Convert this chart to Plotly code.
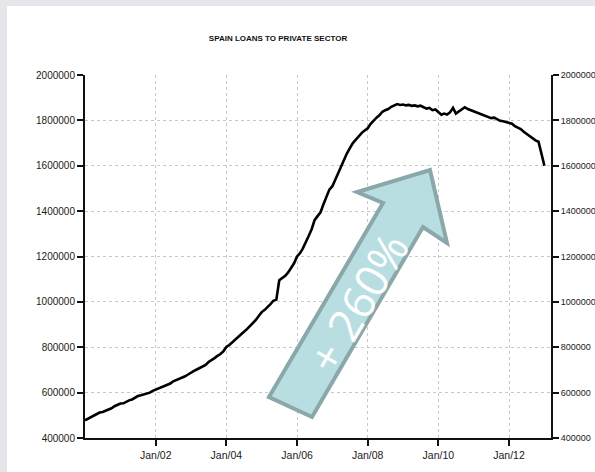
import plotly.graph_objects as go
import pandas as pd

# ---- data (thousands of EUR, monthly, Jan 2000 - Jan 2013) ----
start_month = "2000-01-01"
loans_k = [
    # 2000
    478, 485, 492, 497, 503, 512, 515, 520, 527, 531, 540, 546,
    # 2001
    552, 553, 560, 566, 570, 577, 585, 588, 592, 597, 600, 608,
    # 2002
    614, 617, 624, 630, 636, 640, 650, 655, 662, 668, 672, 680,
    # 2003
    690, 696, 702, 710, 716, 722, 735, 742, 752, 762, 770, 782,
    # 2004
    801, 810, 822, 832, 845, 858, 868, 880, 892, 905, 920, 938,
    # 2005
    955, 965, 975, 990, 1005, 1010, 1095, 1105, 1115, 1130, 1150, 1170,
    # 2006
    1200, 1215, 1235, 1260, 1290, 1320, 1360, 1378, 1395, 1430, 1465, 1495,
    # 2007
    1510, 1540, 1570, 1600, 1630, 1655, 1678, 1700, 1715, 1730, 1745, 1755,
    # 2008
    1765, 1785, 1800, 1812, 1822, 1838, 1845, 1850, 1860, 1865, 1872, 1868,
    # 2009
    1870, 1866, 1868, 1864, 1866, 1862, 1865, 1858, 1852, 1855, 1845, 1848,
    # 2010
    1838, 1825, 1830, 1826, 1835, 1855, 1830, 1840, 1848, 1858, 1850, 1845,
    # 2011
    1840, 1838, 1832, 1826, 1822, 1818, 1810, 1812, 1805, 1798, 1796, 1792,
    # 2012
    1790, 1785, 1775, 1768, 1762, 1750, 1740, 1730, 1718, 1712, 1706, 1650,
    # 2013
    1600,
]
tick_dates = ["2002-01-01", "2004-01-01", "2006-01-01", "2008-01-01", "2010-01-01", "2012-01-01"]
tick_labels = ["Jan/02", "Jan/04", "Jan/06", "Jan/08", "Jan/10", "Jan/12"]
y_ticks = [400000, 600000, 800000, 1000000, 1200000, 1400000, 1600000, 1800000, 2000000]
title_text = "SPAIN LOANS TO PRIVATE SECTOR"
arrow_text = "+ 260%"

dates = pd.date_range(start_month, periods=len(loans_k), freq="MS")
values = [v * 1000 for v in loans_k]

W, H = 595, 472
L, R, T, B = 85, 551, 75, 438  # plot area in pixels


def px(x, y):
    return (x - L) / (R - L), (B - y) / (B - T)


y_font = dict(family="Liberation Sans, Arial, sans-serif", size=10, color="#1a1a1a")
y2_font = dict(family="Liberation Sans, Arial, sans-serif", size=9, color="#1a1a1a")
x_font = dict(family="Liberation Sans, Arial, sans-serif", size=10.5, color="#1a1a1a")

fig = go.Figure()
fig.add_trace(go.Scatter(x=dates, y=values, mode="lines",
                         line=dict(color="black", width=2.6), hoverinfo="skip", showlegend=False))
fig.add_trace(go.Scatter(x=dates, y=values, mode="lines", yaxis="y2",
                         line=dict(color="rgba(0,0,0,0)", width=0), hoverinfo="skip", showlegend=False))

# slide background strips
x0, _ = px(0, 0)
x7, _ = px(7, 0)
xR, _ = px(W, 0)
_, yTop = px(0, 0)
_, y6 = px(0, 6)
_, yBot = px(0, H)
shapes = [
    dict(type="rect", xref="paper", yref="paper", x0=x0, x1=x7, y0=yBot, y1=yTop,
         fillcolor="#e4e6e9", line=dict(width=0), layer="above"),
    dict(type="rect", xref="paper", yref="paper", x0=x0, x1=xR, y0=y6, y1=yTop,
         fillcolor="#e4e6e9", line=dict(width=0), layer="above"),
]

# arrow polygon
arrow_pts = [(269, 397), (383, 203), (357, 192), (430, 170), (447, 243), (423, 227), (312, 417)]
path = ""
for i, (ax, ay) in enumerate(arrow_pts):
    qx, qy = px(ax, ay)
    path += ("M" if i == 0 else "L") + f"{qx:.5f},{qy:.5f} "
path += "Z"
shapes.append(dict(type="path", xref="paper", yref="paper", path=path,
                   fillcolor="#b8dee2", line=dict(color="#8aa8aa", width=4), layer="above"))

tx, ty = px(357, 302)

axis_common = dict(showline=True, linecolor="#111", linewidth=2,
                   ticks="outside", ticklen=6, tickcolor="#111", tickwidth=1.5,
                   zeroline=False, fixedrange=True, automargin=False)

fig.update_layout(
    width=W, height=H,
    margin=dict(l=L, r=W - R, t=T, b=H - B, autoexpand=False),
    paper_bgcolor="white", plot_bgcolor="white",
    title=dict(text=title_text, x=278 / W, xanchor="center", y=1 - 38 / H, yanchor="middle",
               font=dict(family="Liberation Sans, Arial, sans-serif", size=8.0, color="#111", weight=600)),
    xaxis=dict(type="date", range=["2000-01-01", "2013-03-10"],
               tickvals=tick_dates, ticktext=tick_labels, tickfont=x_font,
               showgrid=True, gridcolor="#c9c9c9", griddash="dot", gridwidth=1,
               **axis_common),
    yaxis=dict(range=[400000, 2000000], tickvals=y_ticks, tickformat="d", tickfont=y_font,
               showgrid=True, gridcolor="#c9c9c9", griddash="dot", gridwidth=1,
               **axis_common),
    yaxis2=dict(range=[400000, 2000000], tickvals=y_ticks, tickformat="d", tickfont=y2_font,
                overlaying="y", side="right", showgrid=False, ticklabelstandoff=0, **axis_common),
    shapes=shapes,
    annotations=[dict(text=arrow_text, xref="paper", yref="paper", x=tx, y=ty,
                      showarrow=False, textangle=-59.6,
                      font=dict(family="Open Sans, Lato, sans-serif", size=45, color="white", weight=400))],
    showlegend=False,
)

fig.write_html("out.html", config={"displayModeBar": False},
               post_script="document.body.style.margin='0';document.body.style.overflow='hidden';")
